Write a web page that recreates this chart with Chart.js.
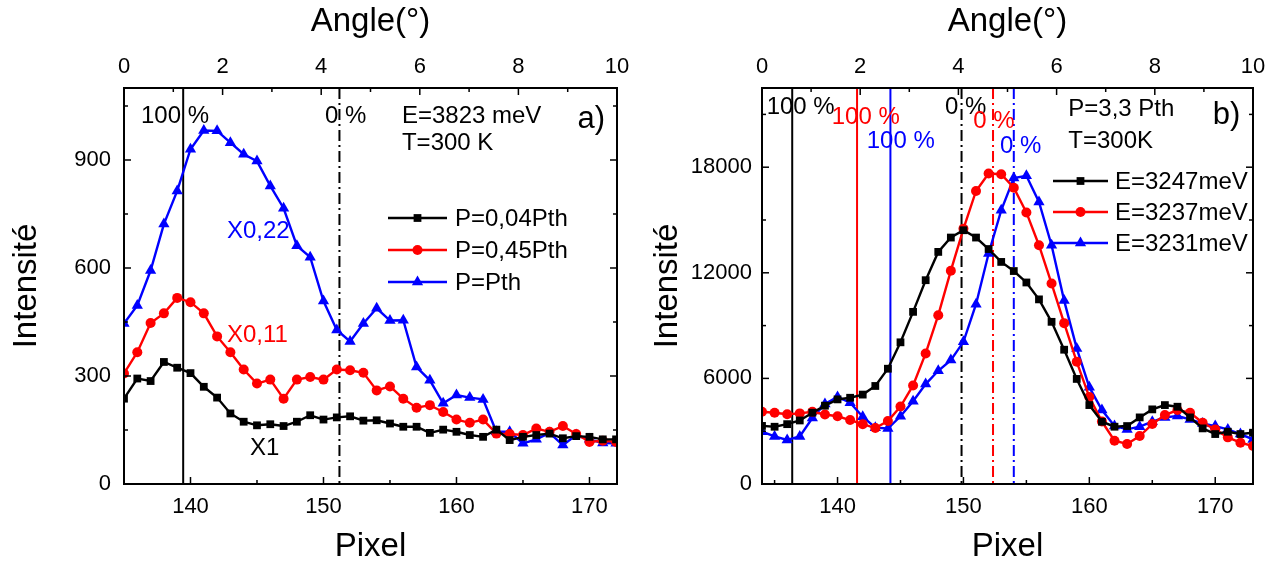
<!DOCTYPE html>
<html><head><meta charset="utf-8">
<script src="https://cdn.jsdelivr.net/npm/chart.js@4.4.0/dist/chart.umd.min.js"></script>
<style>
html,body{margin:0;padding:0;background:#fff;}
#wrap{position:relative;width:1275px;height:567px;overflow:hidden;background:#fff;}
#c1{position:absolute;left:0;top:0;}
#c2{position:absolute;left:640px;top:0;}
</style></head><body>
<div id="wrap"><canvas id="c1" width="640" height="567"></canvas><canvas id="c2" width="635" height="567"></canvas></div>
<script>
// ---------------- DATA : panel a) ----------------
const pixelsA = [135,136,137,138,139,140,141,142,143,144,145,146,147,148,149,150,151,152,153,154,155,156,157,158,159,160,161,162,163,164,165,166,167,168,169,170,171,172];
const p004A = [237,293,286,339,323,308,270,240,196,173,163,166,161,173,191,179,185,188,176,177,168,159,159,142,151,145,136,131,151,122,131,136,140,127,133,131,124,124];
const p045A = [307,366,447,474,517,505,474,410,366,318,279,290,237,290,297,290,318,316,309,260,271,237,212,219,200,179,170,179,140,139,136,154,145,161,139,117,120,117];
const pthA  = [446,496,593,722,814,930,982,981,948,916,897,828,766,662,630,508,428,396,446,488,454,455,325,288,224,247,240,235,145,145,113,124,142,108,136,124,114,113];
const seriesNamesA = ['P=0,04Pth','P=0,45Pth','P=Pth'];
const percentLinesA = [139.45, 151.2];          // 100 % (solid), 0 % (dash-dot)

// ---------------- DATA : panel b) ----------------
const pixelsB = [134,135,136,137,138,139,140,141,142,143,144,145,146,147,148,149,150,151,152,153,154,155,156,157,158,159,160,161,162,163,164,165,166,167,168,169,170,171,172,173];
const e3247B = [3300,3253,3400,3610,4050,4450,4808,4900,5080,5570,6550,8050,9781,11580,13187,14003,14418,14003,13350,12618,12100,11450,10490,9214,7630,5970,4484,3538,3255,3292,3784,4240,4484,4390,3784,3160,2838,2970,2838,2914];
const e3237B = [4106,4050,3960,4012,4106,3950,3850,3633,3400,3180,3580,4400,5600,7419,9593,12120,14500,16650,17640,17600,16830,15430,13566,11390,9140,6944,4940,3550,2460,2271,2725,3406,3917,4200,4050,3482,3103,2650,2346,2157];
const e3231B = [2970,2700,2500,2700,3750,4550,4950,4620,3820,3200,3150,3850,4700,5676,6432,7039,8078,10217,13100,15550,17380,17510,16024,13566,10420,7703,5500,4200,3292,3103,3255,3538,3784,3860,3670,3444,3292,3103,2838,2535];
const seriesNamesB = ['E=3247meV','E=3237meV','E=3231meV'];
const percent100B = [136.4, 141.55, 144.2];    // solid lines (black, red, blue)
const percent0B   = [149.85, 152.35, 154.0];   // dash-dot lines (black, red, blue)

// ---------------- TICK LABELS ----------------
const pixelTickLabels = [140,150,160,170];
const angleTickLabels = [0,2,4,6,8,10];
const intensityTicksA = [0,300,600,900];
const intensityTicksB = [0,6000,12000,18000];

// ---------------- STYLE ----------------
const FONT = 'Liberation Sans, Arial, Helvetica, sans-serif';
const COLORS = ['#000000','#ff0000','#0000ff'];
const STYLES = ['rect','circle','triangle'];
const RADII = [5.5,5,6.5];
const TICKSIZE = 22;

function ds(label, xs, ys, i){
  return {label, data: xs.map((x,k)=>({x, y: ys[k]})), borderColor: COLORS[i], backgroundColor: COLORS[i],
    borderWidth: 2.4, pointStyle: STYLES[i], pointRadius: RADII[i], pointBorderWidth: 0, pointBackgroundColor: COLORS[i],
    tension: 0, fill: false};
}

function marker(ctx, style, r, x, y){
  ctx.beginPath();
  if (style==='rect'){ const s=r*Math.SQRT1_2; ctx.rect(x-s,y-s,2*s,2*s); }
  else if (style==='circle'){ ctx.arc(x,y,r,0,Math.PI*2); }
  else { const a=2*Math.PI/3; let rad=0; ctx.moveTo(x+Math.sin(rad)*r, y-Math.cos(rad)*r);
    rad+=a; ctx.lineTo(x+Math.sin(rad)*r, y-Math.cos(rad)*r); rad+=a; ctx.lineTo(x+Math.sin(rad)*r, y-Math.cos(rad)*r); ctx.closePath(); }
  ctx.fill();
}

function decor(cfg){
  return {
    id:'decor',
    beforeDatasetsDraw(chart){
      const {ctx, chartArea:a, scales} = chart;
      ctx.save();
      ctx.beginPath(); ctx.rect(a.left,a.top,a.right-a.left,a.bottom-a.top); ctx.clip();
      cfg.vlines.forEach(l=>{
        const px = scales.x.getPixelForValue(l.x);
        ctx.strokeStyle=l.color; ctx.lineWidth=2;
        ctx.setLineDash(l.dash?[11,4,2,4]:[]);
        ctx.beginPath(); ctx.moveTo(px,a.top); ctx.lineTo(px,a.bottom); ctx.stroke();
      });
      ctx.restore();
    },
    afterDraw(chart){
      const {ctx, chartArea:a, scales} = chart;
      ctx.save();
      ctx.strokeStyle='#000'; ctx.lineWidth=2; ctx.setLineDash([]);
      ctx.strokeRect(a.left,a.top,a.right-a.left,a.bottom-a.top);
      ctx.lineWidth=1.5;
      const MAJ=7, MIN=4;
      for (let v=cfg.xTickStart; v<=scales.x.max+1e-9; v+=cfg.xMinorStep){
        const p=scales.x.getPixelForValue(v); const L = pixelTickLabels.includes(v)?MAJ:MIN;
        ctx.beginPath(); ctx.moveTo(p,a.bottom); ctx.lineTo(p,a.bottom-L); ctx.stroke();
      }
      for (let v=0; v<=10; v+=1){
        const p=scales.x2.getPixelForValue(v); const L = angleTickLabels.includes(v)?MAJ:MIN;
        ctx.beginPath(); ctx.moveTo(p,a.top); ctx.lineTo(p,a.top+L); ctx.stroke();
      }
      for (let v=0; v<=scales.y.max+1e-9; v+=cfg.yMinorStep){
        const p=scales.y.getPixelForValue(v); const L = cfg.yTicks.includes(v)?MAJ:MIN;
        ctx.beginPath(); ctx.moveTo(a.left,p); ctx.lineTo(a.left+L,p); ctx.stroke();
        ctx.beginPath(); ctx.moveTo(a.right,p); ctx.lineTo(a.right-L,p); ctx.stroke();
      }
      ctx.textBaseline='middle'; ctx.textAlign='left';
      cfg.texts.forEach(t=>{
        ctx.fillStyle=t.color; ctx.font=(t.size||24)+'px '+FONT;
        ctx.fillText(t.text, scales.x.getPixelForValue(t.x), scales.y.getPixelForValue(t.y));
      });
      const lg=cfg.legend;
      chart.data.datasets.forEach((d,i)=>{
        const y=lg.ys[i];
        ctx.strokeStyle=d.borderColor; ctx.fillStyle=d.borderColor; ctx.lineWidth=2.4;
        ctx.beginPath(); ctx.moveTo(lg.x1,y); ctx.lineTo(lg.x2,y); ctx.stroke();
        marker(ctx, d.pointStyle, d.pointRadius, (lg.x1+lg.x2)/2, y);
        ctx.fillStyle='#000'; ctx.font='24px '+FONT;
        ctx.fillText(d.label, lg.tx, y+1);
      });
      ctx.restore();
    }
  };
}

function makeChart(id, cfg){
  return new Chart(document.getElementById(id), {
    type:'line',
    data:{datasets: cfg.datasets},
    options:{
      responsive:false, animation:false, devicePixelRatio:1,
      layout:{padding:{left:0,right:cfg.padRight,top:0,bottom:0}},
      plugins:{legend:{display:false}, tooltip:{enabled:false}},
      scales:{
        x:{type:'linear', position:'bottom', min:cfg.xMin, max:cfg.xMax,
          afterFit(s){ s.height=83; },
          afterBuildTicks(s){ s.ticks = pixelTickLabels.map(v=>({value:v})); },
          grid:{display:false, drawTicks:false}, border:{display:false},
          ticks:{color:'#000', padding:10, autoSkip:false, maxRotation:0, font:{family:FONT,size:TICKSIZE}, callback:v=>String(v)},
          title:{display:true, text:'Pixel', color:'#000', font:{family:FONT,size:33}, padding:{top:0,bottom:0}}},
        x2:{type:'linear', position:'top', min:0, max:10, display:true,
          afterFit(s){ s.height=88; },
          afterBuildTicks(s){ s.ticks = angleTickLabels.map(v=>({value:v})); },
          grid:{display:false, drawTicks:false}, border:{display:false},
          ticks:{color:'#000', padding:8, autoSkip:false, maxRotation:0, font:{family:FONT,size:TICKSIZE}, callback:v=>String(v)},
          title:{display:true, text:'Angle(°)', color:'#000', font:{family:FONT,size:33}, padding:{top:2,bottom:0}}},
        y:{type:'linear', position:'left', min:0, max:cfg.yMax,
          afterFit(s){ s.width=cfg.yWidth; },
          afterBuildTicks(s){ s.ticks = cfg.yTicks.map(v=>({value:v})); },
          grid:{display:false, drawTicks:false}, border:{display:false},
          ticks:{color:'#000', padding:cfg.yPad, autoSkip:false, font:{family:FONT,size:TICKSIZE}, callback:v=>String(v)},
          title:{display:true, text:'Intensité', color:'#000', font:{family:FONT,size:33}, padding:{top:cfg.yTitlePad,bottom:0}}}
      }
    },
    plugins:[decor(cfg)]
  });
}

makeChart('c1', {
  datasets:[ds(seriesNamesA[0],pixelsA,p004A,0), ds(seriesNamesA[1],pixelsA,p045A,1), ds(seriesNamesA[2],pixelsA,pthA,2)],
  xMin:135, xMax:172.07, yMax:1100, yWidth:124, padRight:23, yPad:13, yTitlePad:7,
  yTicks:intensityTicksA, yMinorStep:150, xTickStart:140, xMinorStep:5,
  vlines:[{x:percentLinesA[0],color:'#000',dash:false},{x:percentLinesA[1],color:'#000',dash:true}],
  texts:[
    {text:'100 %', x:136.28, y:1022, color:'#000'},
    {text:'0 %', x:150.11, y:1022, color:'#000'},
    {text:'E=3823 meV', x:155.9, y:1022, color:'#000'},
    {text:'T=300 K', x:155.9, y:945, color:'#000'},
    {text:'a)', x:169.1, y:1014, color:'#000', size:31},
    {text:'X0,22', x:142.74, y:701, color:'#0000ff'},
    {text:'X0,11', x:142.74, y:413, color:'#ff0000'},
    {text:'X1', x:144.47, y:100, color:'#000'}
  ],
  legend:{x1:388, x2:447, tx:455, ys:[218,250,282]}
});

makeChart('c2', {
  datasets:[ds(seriesNamesB[0],pixelsB,e3247B,0), ds(seriesNamesB[1],pixelsB,e3237B,1), ds(seriesNamesB[2],pixelsB,e3231B,2)],
  xMin:134, xMax:173, yMax:22500, yWidth:122, padRight:22, yPad:10, yTitlePad:8,
  yTicks:intensityTicksB, yMinorStep:3000, xTickStart:135, xMinorStep:5,
  vlines:[
    {x:percent100B[0],color:'#000',dash:false},{x:percent100B[1],color:'#ff0000',dash:false},{x:percent100B[2],color:'#0000ff',dash:false},
    {x:percent0B[0],color:'#000',dash:true},{x:percent0B[1],color:'#ff0000',dash:true},{x:percent0B[2],color:'#0000ff',dash:true}],
  texts:[
    {text:'100 %', x:134.37, y:21400, color:'#000'},
    {text:'100 %', x:139.54, y:20832, color:'#ff0000'},
    {text:'100 %', x:142.32, y:19470, color:'#0000ff'},
    {text:'0 %', x:148.54, y:21400, color:'#000'},
    {text:'0 %', x:150.78, y:20605, color:'#ff0000'},
    {text:'0 %', x:152.9, y:19158, color:'#0000ff'},
    {text:'P=3,3 Pth', x:158.33, y:21286, color:'#000'},
    {text:'T=300K', x:158.33, y:19470, color:'#000'},
    {text:'b)', x:169.8, y:20946, color:'#000', size:31}
  ],
  legend:{x1:413, x2:468, tx:475, ys:[181,212,243]}
});
</script>
</body></html>
